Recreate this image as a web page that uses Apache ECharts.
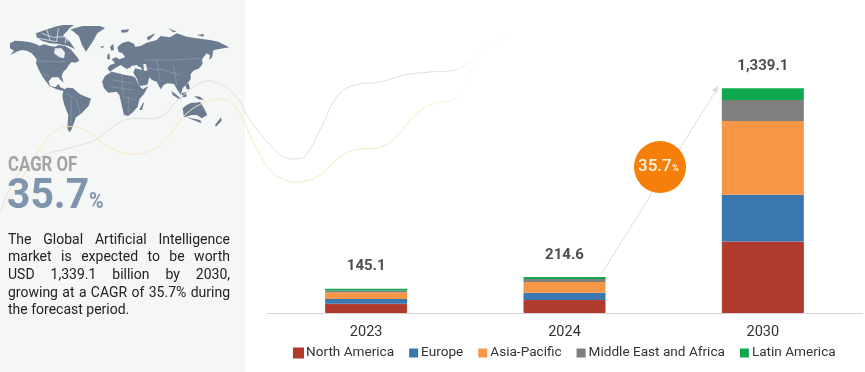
<!DOCTYPE html>
<html><head><meta charset="utf-8">
<style>html,body{margin:0;padding:0;background:#fff}#c{width:865px;height:372px}</style>
<script src="https://cdn.jsdelivr.net/npm/echarts@6/dist/echarts.min.js"></script>
</head><body><div id="c"></div>
<script>
const categories = ['2023','2024','2030'];
const northAmerica = [55, 77, 426];
const europe = [28, 44, 278];
const asiaPacific = [40, 63, 440];
const middleEastAfrica = [11, 19, 125];
const latinAmerica = [11.1, 11.6, 70.1];
const totals = [145.1, 214.6, 1339.1];
const totalLabels = ['145.1','214.6','1,339.1'];
const paragraph = [
 ['The Global Artificial Intelligence', true],
 ['market is expected to be worth', true],
 ['USD 1,339.1 billion by 2030,', true],
 ['growing at a CAGR of 35.7% during', true],
 ['the forecast period.', false]
];

// decorative map outlines, in 3x-scaled picture units
const land = [
 [[30,130],[45,122],[70,124],[90,127],[108,132],[118,138],[132,133],[150,138],[165,140],[176,135],[195,138],[212,148],[222,160],[232,172],[238,182],[226,188],[215,186],[206,196],[200,206],[190,215],[185,228],[191,248],[183,241],[175,232],[156,232],[146,244],[151,257],[165,262],[176,252],[181,262],[196,268],[190,273],[170,268],[150,259],[135,241],[125,226],[115,206],[108,190],[110,178],[95,160],[80,152],[65,150],[50,155],[30,166],[42,152],[30,145]],
 [[190,272],[200,263],[218,264],[240,283],[258,290],[273,296],[266,318],[245,340],[228,352],[222,368],[215,388],[208,397],[202,385],[205,345],[192,312],[187,288]],
 [[212,88],[248,78],[300,78],[315,84],[292,100],[278,125],[258,155],[246,135],[236,108]],
 [[108,100],[135,90],[165,80],[190,75],[222,75],[205,90],[190,105],[210,125],[225,148],[205,138],[175,132],[150,130],[125,122],[110,112]],
 [[322,205],[330,195],[345,190],[335,178],[348,172],[358,178],[375,172],[368,160],[356,156],[352,142],[365,130],[385,124],[403,132],[405,140],[422,138],[440,128],[470,120],[482,108],[510,112],[530,100],[560,110],[590,115],[630,120],[655,125],[688,142],[662,146],[642,150],[628,165],[620,160],[606,178],[608,192],[596,206],[582,211],[572,222],[572,238],[561,252],[548,264],[543,285],[532,270],[522,252],[502,250],[491,255],[482,268],[470,245],[456,240],[448,232],[442,254],[418,258],[410,235],[400,218],[405,205],[428,210],[420,200],[395,200],[380,207],[362,195],[345,205],[330,215]],
 [[306,245],[315,228],[335,215],[355,220],[375,225],[395,228],[405,232],[418,258],[428,268],[445,258],[432,282],[418,298],[413,320],[400,335],[385,348],[372,345],[365,315],[358,285],[350,275],[325,278],[312,265]],
 [[548,325],[560,315],[575,308],[590,308],[600,305],[612,325],[622,345],[605,355],[590,345],[575,345],[552,352]],
 [[428,310],[432,308],[426,330],[418,330]],
 [[663,352],[665,362],[648,380],[645,375]],
 [[630,160],[640,155],[636,172],[628,180]],
 [[514,272],[530,285],[545,298],[535,296],[518,285]],
 [[545,280],[558,276],[560,290],[548,292]],
 [[582,288],[600,290],[612,300],[595,298]],
 [[556,255],[566,250],[570,268],[560,268]],
 [[330,140],[340,132],[342,150],[334,152]],
 [[362,90],[388,88],[382,97],[366,98]],
 [[440,112],[465,100],[460,108],[445,122]],
 [[505,85],[530,95],[520,97]],
 [[590,105],[612,102],[610,110]],
 [[300,140],[312,138],[308,145]],
 [[322,165],[328,160],[330,178],[322,178]],
 [[560,352],[600,360],[605,368],[600,368]]
];
const holes = [
 [[165,145],[185,145],[195,158],[192,175],[178,172],[162,160]],
 [[392,198],[412,195],[415,200],[395,204]],
 [[430,192],[438,192],[442,212],[432,212]]
];
const channels = [
 [[125,100],[160,112],[200,110]],[[140,88],[150,120]],[[175,85],[170,125]],[[115,115],[170,125]],[[190,105],[205,125]],
 [[205,90],[195,130]],[[222,76],[205,88]]
];
const borders = [
 [[110,183],[195,185]],[[125,222],[150,228]],[[205,285],[230,300],[240,340]],[[215,300],[212,370]],
 [[340,240],[400,250]],[[365,220],[370,290],[410,300]],[[330,260],[400,270]],[[385,290],[385,345]],
 [[430,180],[520,180],[600,175]],[[440,205],[490,210],[540,225]],[[470,180],[480,245]],[[520,190],[530,255]]
];
const grayCurve = [[0,212],[20,172],[45,155],[70,148],[95,140],[125,120],[160,117],[178,100],[200,83],[215,82],[235,95],[250,120],[270,145],[282,156],[296,159],[306,155],[320,130],[338,95],[355,85],[380,82],[405,75],[430,72],[455,70],[470,62],[490,45],[510,35],[525,32]];
const yellowCurve = [[0,212],[12,195],[30,165],[50,135],[65,127],[85,130],[110,148],[135,154],[160,145],[185,115],[205,102],[220,99],[235,106],[255,145],[270,170],[285,180],[300,182],[320,175],[340,157],[358,149],[378,148],[395,138],[415,115],[435,103],[450,101],[462,92],[480,55],[495,40],[505,30]];

const scale = p => p.map(q => [q[0]/3, q[1]/3]);
const fade = c => new echarts.graphic.LinearGradient(0,0,1,0,[{offset:0,color:c},{offset:0.82,color:c},{offset:1,color:'rgba(255,255,255,0.2)'}]);
const graphic = [];
graphic.push({type:'rect',shape:{x:0,y:0,width:245,height:372},style:{fill:'#f5f6f6'},silent:true});
land.forEach(p => graphic.push({type:'polygon',shape:{points:scale(p)},style:{fill:'#6c7c90'},silent:true}));
holes.forEach(p => graphic.push({type:'polygon',shape:{points:scale(p)},style:{fill:'#eef0f2'},silent:true}));
channels.forEach(p => graphic.push({type:'polyline',shape:{points:scale(p)},style:{stroke:'#e6e9ec',lineWidth:0.8,fill:null},silent:true}));
borders.forEach(p => graphic.push({type:'polyline',shape:{points:scale(p)},style:{stroke:'rgba(225,230,235,0.4)',lineWidth:0.5,fill:null},silent:true}));
graphic.push({type:'polyline',shape:{points:grayCurve,smooth:0.4},style:{stroke:fade('#dfdfdf'),lineWidth:1,fill:null},silent:true});
graphic.push({type:'polyline',shape:{points:yellowCurve,smooth:0.4},style:{stroke:fade('#f4e9ba'),lineWidth:1,fill:null},silent:true});

const cond = 'Roboto,sans-serif';
const txt = (s,x,y,font,fill,sx) => ({type:'text',x:x,y:y,scaleX:sx||1,style:{text:s,font:font,fill:fill,align:'left',verticalAlign:'middle'},silent:true});
graphic.push(txt('CAGR OF',8,166,'bold 21px '+cond,'#a3a3a3',0.8));
graphic.push(txt('35.7',7,197,'bold 43px '+cond,'#7f94ad',0.95));
graphic.push(txt('%',89,202,'bold 22px '+cond,'#7f94ad',0.9));

const bodyFont = '14px Roboto,sans-serif';
const ctx = document.createElement('canvas').getContext('2d');
ctx.font = bodyFont;
const lineYs = [240,257.5,275,293,310];
paragraph.forEach((l,i) => {
  const words = l[0].split(' ');
  const L = 8, R = 230;
  const w = words.map(s => ctx.measureText(s).width);
  const sum = w.reduce((a,b)=>a+b,0);
  const gap = l[1] ? (R-L-sum)/(words.length-1) : ctx.measureText(' ').width;
  let x = L;
  words.forEach((s,j) => { graphic.push(txt(s,x,lineYs[i],bodyFont,'#222')); x += w[j]+gap; });
});

// growth arrow and badge
graphic.push({type:'line',shape:{x1:602,y1:273,x2:717,y2:89},style:{stroke:'#dedede',lineWidth:1},silent:true});
graphic.push({type:'polygon',shape:{points:[[718,86],[717,93],[712,90]]},style:{fill:'#d8d8d8'},silent:true});
graphic.push({type:'circle',shape:{cx:660,cy:167,r:26},style:{fill:'#f57f08'},silent:true});
graphic.push(txt('35.7',638,167,'500 17px Roboto,sans-serif','#fff5e0'));
graphic.push(txt('%',672,169,'bold 9px Roboto,sans-serif','#fff5e0'));

const bar = (name,data,color,border) => ({
  name:name,type:'bar',stack:'t',data:data,barWidth:82,
  itemStyle:{color:color,borderColor:border?color:'transparent',borderWidth:border?1:0}
});
const chart = echarts.init(document.getElementById('c'),null,{renderer:'canvas'});
chart.setOption({
  animation:false,
  backgroundColor:'#fff',
  graphic:graphic,
  grid:{left:267,right:3,top:78,bottom:59},
  legend:{
    data:['North America','Europe','Asia-Pacific','Middle East and Africa','Latin America'],
    left:293,top:346,itemWidth:9,itemHeight:9,itemGap:15,icon:'rect',padding:0,
    textStyle:{fontFamily:'Roboto,sans-serif',fontSize:13.6,color:'#333',padding:[0,0,0,-2]}
  },
  xAxis:{type:'category',data:categories,axisTick:{show:false},
    axisLine:{lineStyle:{color:'#d4d4d4',width:1}},
    axisLabel:{fontFamily:'Roboto,sans-serif',fontSize:14.5,color:'#333',margin:12}},
  yAxis:{type:'value',min:0,max:1400,show:false,splitLine:{show:false}},
  series:[
    bar('North America',northAmerica,'#b03a2e',true),
    bar('Europe',europe,'#3a76b0'),
    bar('Asia-Pacific',asiaPacific,'#f79646'),
    bar('Middle East and Africa',middleEastAfrica,'#7f7f7f'),
    bar('Latin America',latinAmerica,'#0fa84f'),
    {name:'Total',type:'scatter',data:totals,symbolSize:1,itemStyle:{color:'rgba(0,0,0,0)'},silent:true,
     label:{show:true,position:'top',distance:14,fontFamily:'Roboto,sans-serif',fontWeight:'bold',fontSize:15,color:'#222',
       formatter:p=>totalLabels[p.dataIndex]}}
  ]
});
</script></body></html>
